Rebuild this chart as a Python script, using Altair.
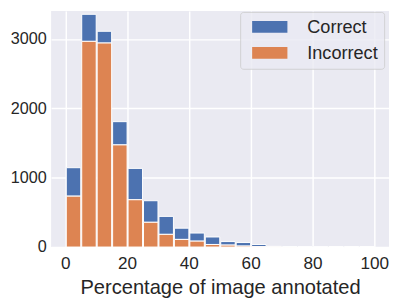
import altair as alt
import pandas as pd

# Histogram bins (percentage of image annotated), width 5
bin_starts = [0, 5, 10, 15, 20, 25, 30, 35, 40, 45, 50, 55, 60, 65, 70, 75, 80, 85, 90, 95]
bin_width = 5
correct = [410, 390, 169, 335, 452, 311, 259, 162, 117, 108, 51, 51, 32, 8, 4, 3, 2, 1, 1, 1]
incorrect = [734, 2966, 2942, 1473, 682, 357, 183, 110, 85, 37, 28, 14, 5, 2, 1, 0, 0, 0, 0, 0]
categories = ["Correct", "Incorrect"]
colors = ["#4C72B0", "#DD8452"]
x_ticks = [0, 20, 40, 60, 80, 100]
y_ticks = [0, 1000, 2000, 3000]

rows = []
for s, c, i in zip(bin_starts, correct, incorrect):
    rows.append({"start": s, "end": s + bin_width, "category": "Correct", "count": c, "ord": 1})
    rows.append({"start": s, "end": s + bin_width, "category": "Incorrect", "count": i, "ord": 0})
df = pd.DataFrame(rows)

FONT = "Liberation Sans"
TXT = "#262626"

chart = alt.Chart(df).mark_bar(stroke="white", strokeWidth=1, opacity=1).encode(
    x=alt.X("start:Q", bin="binned",
            scale=alt.Scale(domain=[-4.6, 104.8], nice=False, zero=False),
            axis=alt.Axis(values=x_ticks, title="Percentage of image annotated", format="d",
                          labelFontSize=17.5, titleFontSize=20.5, labelPadding=8,
                          titleBaseline="alphabetic", titleY=47)),
    x2="end:Q",
    y=alt.Y("count:Q", stack="zero",
            scale=alt.Scale(domain=[0, 3404], nice=False),
            axis=alt.Axis(values=y_ticks, title=None, format="d",
                          labelFontSize=16.5, labelPadding=5)),
    color=alt.Color("category:N",
                    scale=alt.Scale(domain=categories, range=colors),
                    legend=alt.Legend(title=None, orient="none", legendX=193, legendY=1,
                                      symbolType="M-3,-1H3V1H-3Z", symbolSize=144,
                                      symbolStrokeWidth=0, symbolOpacity=1,
                                      labelFontSize=18.5, labelFont=FONT, labelColor=TXT,
                                      padding=6, rowPadding=7.5, symbolOffset=15, labelOffset=29,
                                      fillColor="rgba(234,234,242,0.8)",
                                      strokeColor="rgba(204,204,204,0.8)",
                                      cornerRadius=3)),
    order=alt.Order("ord:Q", sort="ascending"),
).properties(
    width=345, height=241,
    padding={"left": 44, "top": 0, "right": 2, "bottom": 50},
    autosize=alt.AutoSizeParams(type="none"),
    background="white",
).configure_view(
    fill="#EAEAF2", stroke=None
).configure_axis(
    grid=True, gridColor="white", gridWidth=1.5, domain=False, ticks=False,
    labelFont=FONT, titleFont=FONT, labelColor=TXT, titleColor=TXT,
    titleFontWeight="normal",
)

chart.save("out.html", embed_options={"renderer": "svg", "actions": False})
